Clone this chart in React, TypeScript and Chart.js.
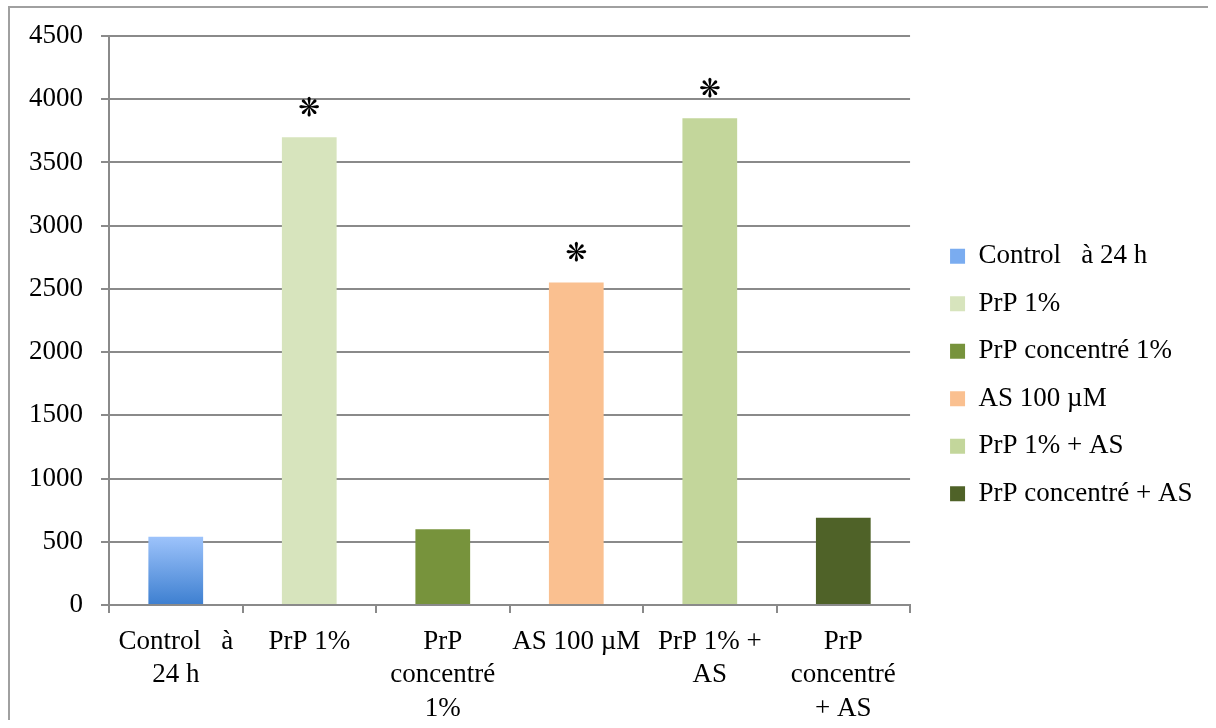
import React, { useEffect, useRef } from "react";
import { Chart, registerables } from "chart.js";

Chart.register(...registerables);

const categories: string[][] = [
  ["Control   à", "24 h"],
  ["PrP 1%"],
  ["PrP", "concentré", "1%"],
  ["AS 100 µM"],
  ["PrP 1% +", "AS"],
  ["PrP", "concentré", "+ AS"],
];
const legendLabels = [
  "Control   à 24 h",
  "PrP 1%",
  "PrP concentré 1%",
  "AS 100 µM",
  "PrP 1% + AS",
  "PrP concentré + AS",
];
const values = [540, 3700, 600, 2550, 3850, 690];
const barColors = ["#7aacf0", "#d7e4bd", "#77933c", "#fac090", "#c3d69b", "#4f6228"];
const significant = [false, true, false, true, true, false];
const starGlyph = "❋";
const yMin = 0;
const yMax = 4500;
const yStep = 500;

const FONT = "'Liberation Serif', 'Times New Roman', serif";

const starPlugin = {
  id: "stars",
  afterDatasetsDraw(chart: any) {
    const meta = chart.getDatasetMeta(0);
    const ctx = chart.ctx;
    ctx.save();
    ctx.font = "26px 'DejaVu Sans'";
    ctx.fillStyle = "#000";
    ctx.textAlign = "center";
    ctx.textBaseline = "middle";
    meta.data.forEach((bar: any, i: number) => {
      if (significant[i]) ctx.fillText(starGlyph, bar.x, bar.y - 28);
    });
    ctx.restore();
  },
};

export default function App() {
  const ref = useRef<HTMLCanvasElement | null>(null);
  useEffect(() => {
    if (!ref.current) return;
    const chart = new Chart(ref.current, {
      type: "bar",
      data: {
        labels: categories,
        datasets: [
          {
            data: values,
            backgroundColor: (c: any) => {
              const i = c.dataIndex;
              if (i === 0 && c.chart.chartArea) {
                const ys = c.chart.scales.y;
                const top = ys.getPixelForValue(values[0]);
                const bot = ys.getPixelForValue(0);
                const g = c.chart.ctx.createLinearGradient(0, top, 0, bot);
                g.addColorStop(0, "#9dc3fb");
                g.addColorStop(1, "#3d7fd0");
                return g;
              }
              return barColors[i];
            },
            borderWidth: 0,
            categoryPercentage: 1,
            barPercentage: 0.41,
            yAxisID: "y",
          },
        ],
      },
      options: {
        animation: false,
        responsive: true,
        maintainAspectRatio: false,
        layout: { padding: { left: 0, top: 22, right: 5.5, bottom: 0 } },
        plugins: {
          tooltip: { enabled: false },
          legend: {
            position: "right",
            align: "center",
            maxWidth: 400,
            labels: {
              boxWidth: 15,
              boxHeight: 15,
              padding: 20.5,
              color: "#000",
              font: { family: FONT, size: 27 },
              generateLabels: () =>
                legendLabels.map((t, i) => ({
                  text: t,
                  fillStyle: barColors[i],
                  strokeStyle: barColors[i],
                  lineWidth: 0,
                  hidden: false,
                  index: i,
                  datasetIndex: 0,
                })),
            },
          },
        },
        scales: {
          x: {
            offset: true,
            grid: {
              offset: true,
              drawOnChartArea: false,
              drawTicks: true,
              tickLength: 8,
              color: "#8a8a8a",
              lineWidth: 2,
            },
            border: { color: "#8a8a8a", width: 2 },
            ticks: {
              color: "#000",
              font: { family: FONT, size: 27, lineHeight: 1.24 },
              padding: 12,
              maxRotation: 0,
              autoSkip: false,
            },
            afterFit: (s: any) => {
              s.height = 115;
            },
          },
          y: {
            min: yMin,
            max: yMax,
            grid: {
              color: "#8a8a8a",
              lineWidth: 2,
              drawTicks: true,
              tickLength: 8,
            },
            border: { color: "#8a8a8a", width: 2 },
            ticks: {
              stepSize: yStep,
              color: "#000",
              font: { family: FONT, size: 27, lineHeight: "20px" },
              padding: 18,
              callback: (v: any) => String(v),
            },
            afterFit: (s: any) => {
              s.width = 99;
            },
          },
          gap: {
            type: "linear",
            position: "right",
            display: true,
            grid: { display: false, drawTicks: false },
            border: { display: false },
            ticks: { display: false },
            afterFit: (s: any) => {
              s.width = 19.5;
            },
          },
        },
      },
      plugins: [starPlugin],
    } as any);
    return () => chart.destroy();
  }, []);

  return (
    <div
      style={{
        position: "absolute",
        left: 8,
        top: 6,
        width: 1200,
        height: 714,
        overflow: "hidden",
        background: "#fff",
      }}
    >
      <div
        style={{
          position: "absolute",
          left: 0,
          top: 0,
          width: 1220,
          height: 740,
          borderTop: "2px solid #a0a0a0",
          borderLeft: "2px solid #a0a0a0",
          boxSizing: "border-box",
        }}
      />
      <div
        style={{
          position: "absolute",
          left: 2,
          top: 2,
          width: 1198,
          height: 712,
        }}
      >
        <canvas ref={ref} />
      </div>
    </div>
  );
}
